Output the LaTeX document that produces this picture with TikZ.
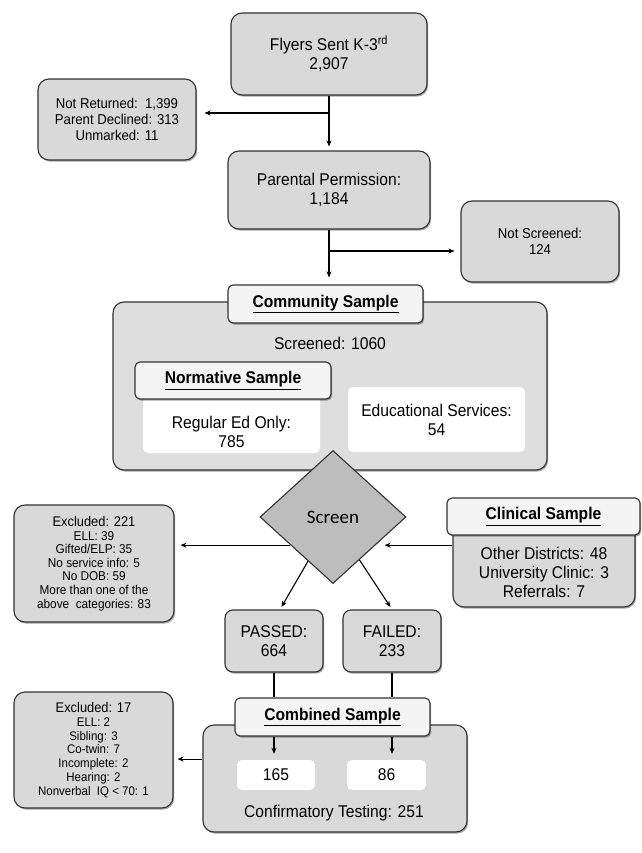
\documentclass[tikz,border=0pt]{standalone}
\usepackage{fontspec}
\setmainfont{Liberation Sans}[FakeStretch=0.92]
\newfontfamily\carl{Carlito}
\usetikzlibrary{shapes.geometric,shadows,arrows.meta,calc}
\definecolor{boxgray}{HTML}{D9D9D9}
\definecolor{commgray}{HTML}{DEDEDE}
\definecolor{labfill}{HTML}{F4F4F4}
\definecolor{diagray}{HTML}{BDBDBD}
\definecolor{edge}{HTML}{333333}
\begin{document}
\begin{tikzpicture}[x=1pt,y=-1pt,
  shad/.style={drop shadow={shadow xshift=1.2pt,shadow yshift=-1.6pt,opacity=0.35,fill=black}},
  gbox/.style={draw=edge,line width=1.1pt,fill=boxgray,rounded corners=11pt,shad,align=center,inner sep=0pt,
     font=\fontsize{17}{19}\selectfont},
  sidebox/.style={gbox,font=\fontsize{14.3}{16}\selectfont},
  smallbox/.style={gbox,font=\fontsize{12.8}{13.6}\selectfont},
  labbox/.style={draw=edge,line width=1.1pt,fill=labfill,rounded corners=5pt,shad,inner sep=0pt,
     font=\bfseries\fontsize{17}{18}\selectfont},
  wbox/.style={fill=white,rounded corners=5pt,inner sep=0pt,align=center,font=\fontsize{17}{19}\selectfont},
  txt/.style={inner sep=0pt,align=center,font=\fontsize{17}{19}\selectfont},
  arr/.style={line width=1.1pt,-{Stealth[length=6pt,width=5pt]}},
  ln/.style={line width=1.1pt}]
\useasboundingbox (0,0) rectangle (641,853);

% top part
\node[gbox,minimum width=196pt,minimum height=82pt] (flyers) at (329,54) {Flyers Sent K-3\textsuperscript{rd}\\2,907};
\node[sidebox,minimum width=158pt,minimum height=81pt] (notret) at (117,119.5) {Not Returned:\ \ 1,399\\Parent Declined: 313\\Unmarked: 11};
\node[gbox,minimum width=202pt,minimum height=78pt] (parental) at (329,190) {Parental Permission:\\1,184};
\node[sidebox,minimum width=158pt,minimum height=81pt] (notscr) at (540,241.5) {Not Screened:\\124};

% community sample
\node[gbox,fill=commgray,minimum width=434pt,minimum height=168pt] (commbox) at (330,386) {};
\node[labbox,minimum width=195pt,minimum height=38pt] (commlab) at (325.5,304) {\underline{Community Sample}};
\node[txt] (screened) at (330,343) {Screened: 1060};
\node[wbox,minimum width=177pt,minimum height=64pt] (regw) at (231.5,421) {};
\node[txt] (regt) at (231.5,431.5) {Regular Ed Only:\\785};
\node[labbox,minimum width=196pt,minimum height=37pt] (normlab) at (233,380.5) {\underline{Normative Sample}};
\node[wbox,minimum width=177pt,minimum height=65pt] (eduw) at (436.5,419.5) {Educational Services:\\54};

% screen
\node[diamond,draw=edge,line width=1.1pt,fill=diagray,minimum width=146pt,minimum height=133pt,inner sep=0pt,
      font=\carl\fontsize{19}{20}\selectfont] (scr) at (333,517) {Screen};

\node[smallbox,minimum width=160pt,minimum height=117pt] (excl1) at (94,563.5)
  {{\fontsize{14}{15}\selectfont Excluded: 221}\\ELL: 39\\Gifted/ELP: 35\\No service info: 5\\No DOB: 59\\More than one of the\\above\ \ categories: 83};

\node[gbox,minimum width=182pt,minimum height=87pt] (clinbox) at (544,563.5) {};
\node[labbox,minimum width=193pt,minimum height=37pt] (clinlab) at (543.5,516.5) {\underline{Clinical Sample}};
\node[txt] (clint) at (544,572.5) {Other Districts: 48\\University Clinic: 3\\Referrals: 7};

\node[gbox,rounded corners=8pt,minimum width=98pt,minimum height=62pt] (passed) at (274,641) {PASSED:\\664};
\node[gbox,rounded corners=8pt,minimum width=98pt,minimum height=62pt] (failed) at (392,641) {FAILED:\\233};

% combined
\node[gbox,minimum width=264pt,minimum height=107pt] (combox) at (335,778.5) {};
\node[labbox,minimum width=195pt,minimum height=38pt] (comlab) at (332.5,717) {\underline{Combined Sample}};
\node[wbox,minimum width=78pt,minimum height=30pt] (w165) at (276,775) {165};
\node[wbox,minimum width=79pt,minimum height=30pt] (w86) at (386.5,775) {86};
\node[txt] (conf) at (334,813) {Confirmatory Testing: 251};

\node[smallbox,minimum width=159pt,minimum height=116pt,font=\fontsize{12.5}{13.7}\selectfont] (excl2) at (93.5,750)
  {{\fontsize{14}{15}\selectfont Excluded: 17}\\ELL: 2\\Sibling: 3\\Co-twin: 7\\Incomplete: 2\\Hearing: 2\\Nonverbal\ \ IQ < 70: 1};

% connectors
\draw[arr,shorten >=4pt] (flyers.south) -- (parental.north);
\coordinate (b1) at (329,113);
\draw[arr,shorten >=8pt] (b1) -- (b1 -| notret.east);
\draw[arr,shorten >=7pt] (parental.south) -- (parental.south |- commlab.north);
\coordinate (b2) at (329,251);
\draw[arr,shorten >=6pt] (b2) -- (b2 -| notscr.west);

\coordinate (l1) at ($(scr.west)!0.42!(scr.south)$);
\draw[arr,shorten >=6pt] (l1) -- (l1 -| excl1.east);
\coordinate (l2) at ($(scr.east)!0.42!(scr.south)$);
\draw[arr,shorten >=9pt] (clinbox.west |- l2) -- (l2);
\coordinate (d1) at ($(scr.south)!0.34!(scr.west)$);
\coordinate (d2) at ($(scr.south)!0.36!(scr.east)$);
\draw[arr,shorten >=3pt] (d1) -- ([xshift=6pt]passed.north);
\draw[arr,shorten >=3pt] (d2) -- (failed.north);

\draw[ln] (passed.south) -- (passed.south |- comlab.north);
\draw[ln] (failed.south) -- (failed.south |- comlab.north);
\draw[arr,shorten >=6pt] (passed.south |- comlab.south) -- (passed.south |- w165.north);
\draw[arr,shorten >=6pt] (failed.south |- comlab.south) -- (failed.south |- w86.north);
\coordinate (c3) at ($(combox.north west)!0.32!(combox.south west)$);
\draw[arr,shorten >=4pt] (c3) -- (c3 -| excl2.east);
\end{tikzpicture}
\end{document}
